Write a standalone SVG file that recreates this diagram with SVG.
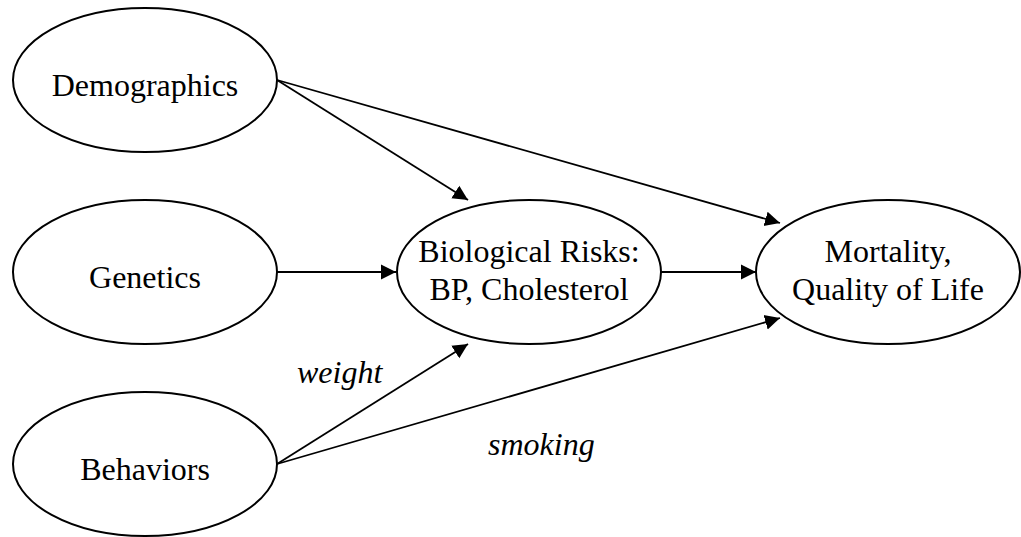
<svg xmlns="http://www.w3.org/2000/svg" width="1021" height="537" viewBox="0 0 1021 537">
<style>
.node ellipse{fill:#fff;stroke:#000;stroke-width:2}
.node text{font-family:"Liberation Serif","Times New Roman",serif;font-size:32px;fill:#000;text-anchor:middle}
.edges line{stroke:#000;stroke-width:1.8}
.lbl{font-family:"Liberation Serif","Times New Roman",serif;font-size:32px;font-style:italic;fill:#000}
</style>
<defs>
<marker id="arr" markerUnits="userSpaceOnUse" markerWidth="16" markerHeight="16" viewBox="0 0 16 16" refX="15" refY="8" orient="auto">
<path d="M0,0.5 L15,8 L0,15.5 Z" fill="#000"/>
</marker>
</defs>
<rect width="1021" height="537" fill="#fff"/>
<g class="edges">
<line x1="277" y1="80" x2="468" y2="200" marker-end="url(#arr)"/>
<line x1="277" y1="80" x2="780" y2="223" marker-end="url(#arr)"/>
<line x1="277" y1="272" x2="396" y2="272" marker-end="url(#arr)"/>
<line x1="661" y1="272" x2="756" y2="272" marker-end="url(#arr)"/>
<line x1="277" y1="464" x2="468" y2="344" marker-end="url(#arr)"/>
<line x1="277" y1="464" x2="780" y2="318" marker-end="url(#arr)"/>
</g>
<g id="demographics" class="node">
<ellipse cx="145" cy="80" rx="132" ry="72"/>
<text x="145" y="96">Demographics</text>
</g>
<g id="genetics" class="node">
<ellipse cx="145" cy="272" rx="132" ry="72"/>
<text x="145" y="288">Genetics</text>
</g>
<g id="behaviors" class="node">
<ellipse cx="145" cy="464" rx="132" ry="72"/>
<text x="145" y="480">Behaviors</text>
</g>
<g id="biorisks" class="node">
<ellipse cx="529" cy="272" rx="132" ry="72"/>
<text x="529" y="262">Biological Risks:</text>
<text x="529" y="300">BP, Cholesterol</text>
</g>
<g id="mortality" class="node">
<ellipse cx="888" cy="272" rx="132" ry="72"/>
<text x="888" y="262">Mortality,</text>
<text x="888" y="300">Quality of Life</text>
</g>
<g id="labels">
<text class="lbl" x="297" y="383">weight</text>
<text class="lbl" x="488" y="455">smoking</text>
</g>
</svg>
